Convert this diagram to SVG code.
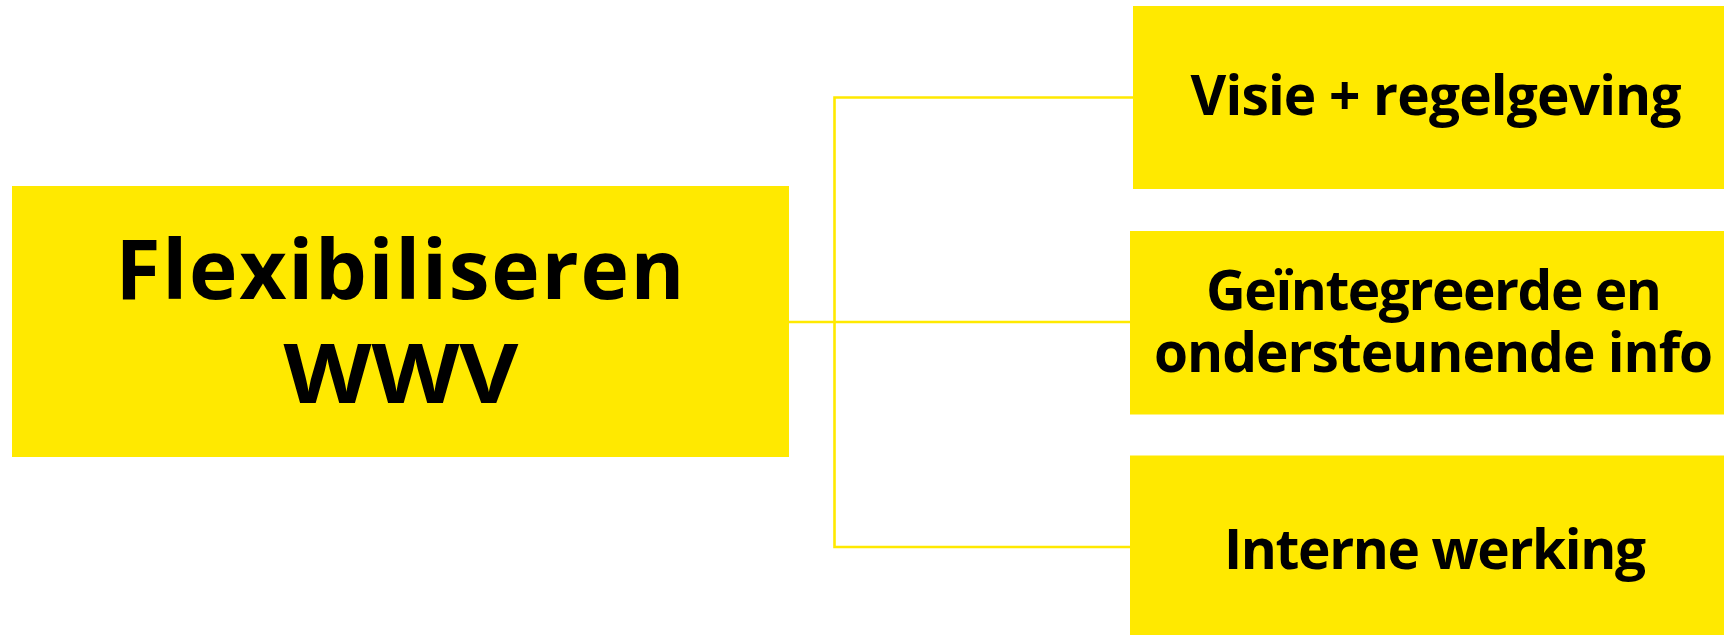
<svg xmlns="http://www.w3.org/2000/svg" width="1724" height="635" viewBox="0 0 1724 635">
<style>
.box{fill:#FFE900}
.t{font-family:"Open Sans","Liberation Sans",Arial,sans-serif;font-weight:700;fill:#000;text-anchor:middle}
.big{font-size:82px}
.sm{font-size:55px}
.c{fill:none;stroke:#FFE900;stroke-width:2.6}
</style>
<rect width="1724" height="635" fill="#fff"/>
<g id="connectors">
<polyline class="c" points="1133,97.5 834.5,97.5 834.5,547 1130,547"/>
<line class="c" x1="789" y1="322" x2="1130" y2="322"/>
</g>
<g id="root">
<rect class="box" x="12" y="186" width="777" height="271"/>
<text class="t big" x="400" y="299" textLength="569" lengthAdjust="spacing">Flexibiliseren</text>
<text class="t big" x="401" y="403" textLength="235" lengthAdjust="spacingAndGlyphs">WWV</text>
</g>
<g id="visie">
<rect class="box" x="1133" y="6" width="600" height="183"/>
<text class="t sm" x="1436" y="115" textLength="491" lengthAdjust="spacing">Visie + regelgeving</text>
</g>
<g id="info">
<rect class="box" x="1130" y="231" width="600" height="183.5"/>
<text class="t sm" x="1434" y="310" textLength="456" lengthAdjust="spacing">Geïntegreerde en</text>
<text class="t sm" x="1433.5" y="371.5" textLength="559" lengthAdjust="spacing">ondersteunende info</text>
</g>
<g id="intern">
<rect class="box" x="1130" y="455.5" width="600" height="190"/>
<text class="t sm" x="1435" y="568.5" textLength="422" lengthAdjust="spacing">Interne werking</text>
</g>
</svg>
